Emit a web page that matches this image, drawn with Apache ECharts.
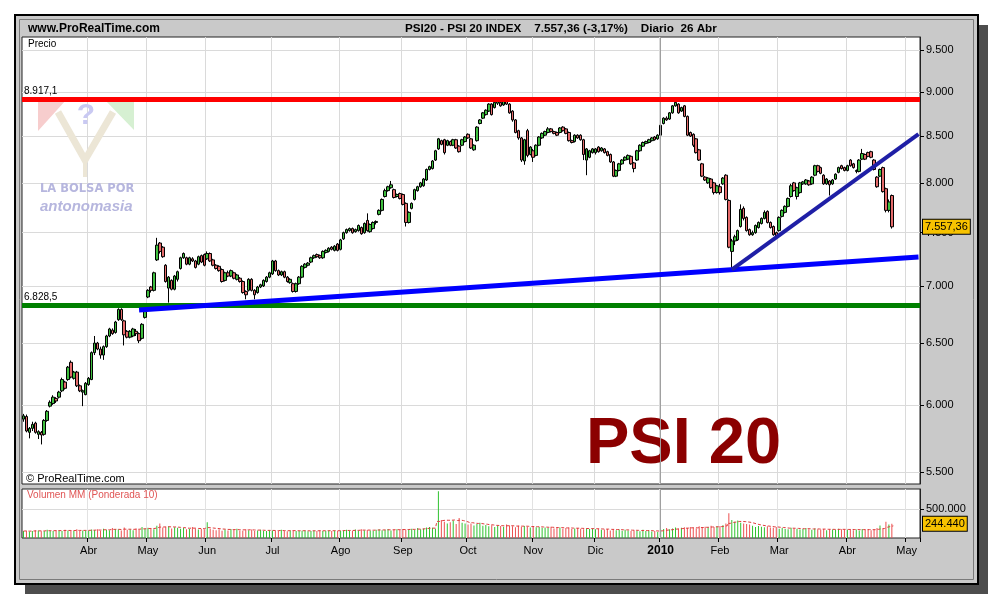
<!DOCTYPE html>
<html><head><meta charset="utf-8">
<script src="https://cdn.jsdelivr.net/npm/echarts@6/dist/echarts.min.js"></script>
<style>html,body{margin:0;padding:0;background:#fff}#c{width:990px;height:600px}</style>
</head><body><div id="c"></div>
<script>
// ---- daily candles [open, close, low, high] per month ----
const mar09=[[5890,5915,5870,5930],[5910,5800,5790,5925],[5790,5820,5745,5830],[5820,5850,5800,5870],[5860,5790,5780,5870],[5775,5795,5740,5805],[5790,5770,5700,5800],[5775,5880,5765,5890],[5880,5950,5870,5960],[5990,6020,5980,6035],[6010,6060,6000,6075],[6050,6030,6015,6060],[6060,6100,6050,6110],[6110,6200,6100,6215],[6180,6130,6120,6190],[6200,6300,6190,6310],[6340,6220,6210,6355],[6210,6260,6200,6270],[6260,6150,6140,6270],[6150,6110,6100,6160],[6100,6110,5990,6120],[6080,6170,6075,6180]];
const apr09=[[6160,6210,6150,6220],[6200,6420,6195,6430],[6420,6500,6400,6560],[6500,6450,6440,6510],[6450,6400,6370,6470],[6400,6470,6360,6480],[6470,6560,6460,6570],[6560,6620,6550,6630],[6610,6580,6570,6625],[6590,6680,6580,6690],[6700,6790,6690,6800],[6790,6700,6690,6800],[6690,6570,6480,6700],[6600,6550,6540,6610],[6550,6600,6540,6610],[6560,6620,6550,6630],[6600,6580,6560,6620],[6580,6520,6500,6590],[6540,6660,6530,6670],[6720,6780,6710,6790]];
const may09=[[6900,6960,6890,6970],[6990,6960,6940,7000],[6960,7120,6950,7130],[7240,7380,7230,7450],[7400,7320,7300,7410],[7360,7270,7260,7370],[7190,7040,7030,7200],[6980,7080,6850,7090],[7050,6970,6960,7060],[6970,7090,6960,7100],[7060,7130,7040,7140],[7160,7260,7150,7270],[7260,7300,7250,7310],[7260,7200,7190,7270],[7200,7260,7190,7270],[7250,7230,7220,7265],[7230,7170,7160,7240],[7200,7270,7190,7280],[7280,7220,7210,7290],[7290,7190,7180,7300]];
const jun09=[[7250,7300,7240,7320],[7300,7230,7220,7310],[7240,7190,7180,7250],[7190,7160,7150,7200],[7180,7140,7130,7190],[7150,7040,7030,7160],[7050,7120,7040,7130],[7120,7090,7080,7140],[7090,7140,7080,7150],[7120,7070,7060,7130],[7060,7100,7050,7110],[7070,7040,7030,7080],[7040,6940,6930,7050],[6950,6920,6880,6960],[6960,7060,6950,7070],[7060,6960,6950,7070],[6960,6920,6880,6970],[6940,6990,6930,7000],[6990,7010,6980,7020],[7000,7050,6990,7060],[7040,7080,7030,7090],[7080,7120,7070,7130]];
const jul09=[[7110,7230,7100,7240],[7230,7140,7130,7240],[7140,7100,7090,7150],[7100,7130,7090,7140],[7130,7080,7070,7140],[7080,7040,7030,7090],[7030,7060,7020,7070],[7020,6950,6940,7030],[6950,7020,6940,7030],[7020,7080,7010,7090],[7080,7180,7070,7190],[7170,7200,7160,7210],[7190,7210,7180,7220],[7220,7260,7210,7270],[7260,7280,7250,7290],[7290,7270,7260,7300],[7280,7260,7250,7290],[7260,7320,7250,7330],[7310,7330,7300,7340],[7320,7350,7310,7360],[7360,7340,7330,7370],[7330,7370,7320,7380],[7390,7330,7320,7400]];
const aug09=[[7340,7430,7330,7440],[7440,7500,7430,7510],[7500,7530,7490,7540],[7520,7540,7510,7550],[7540,7500,7490,7550],[7510,7530,7500,7540],[7520,7570,7510,7580],[7550,7490,7480,7560],[7500,7590,7490,7600],[7620,7520,7510,7690],[7510,7580,7500,7590],[7540,7600,7530,7610],[7600,7610,7580,7620],[7680,7720,7670,7730],[7720,7830,7710,7840],[7860,7920,7850,7940],[7920,7960,7910,7970],[7950,7980,7940,8020],[7930,7850,7840,7940],[7860,7880,7850,7890],[7890,7840,7830,7900]];
const sep09=[[7880,7780,7770,7890],[7790,7600,7560,7800],[7600,7700,7590,7710],[7740,7790,7730,7800],[7830,7930,7820,7940],[7920,7960,7910,7970],[7960,8000,7950,8010],[7970,8040,7960,8050],[8030,8140,8020,8150],[8140,8170,8130,8180],[8150,8230,8140,8240],[8240,8340,8230,8350],[8360,8470,8350,8480],[8450,8410,8400,8460],[8460,8320,8300,8470],[8400,8450,8390,8460],[8440,8400,8390,8450],[8400,8460,8390,8470],[8460,8370,8360,8470],[8390,8330,8320,8400],[8400,8460,8390,8470],[8440,8490,8430,8500]];
const oct09=[[8520,8480,8470,8530],[8470,8370,8360,8480],[8350,8400,8340,8410],[8450,8600,8440,8610],[8640,8680,8630,8690],[8700,8760,8690,8770],[8740,8790,8730,8800],[8780,8860,8770,8870],[8860,8740,8730,8870],[8820,8880,8810,8890],[8870,8890,8850,8920],[8880,8840,8830,8890],[8850,8890,8840,8900],[8890,8860,8850,8900],[8860,8760,8750,8870],[8780,8680,8660,8790],[8680,8540,8530,8690],[8560,8480,8460,8570],[8480,8240,8220,8490],[8230,8460,8190,8470],[8560,8290,8270,8580],[8300,8380,8290,8390]];
const nov09=[[8340,8270,8220,8360],[8290,8400,8280,8410],[8400,8490,8390,8500],[8480,8530,8470,8540],[8510,8550,8500,8560],[8540,8580,8530,8600],[8580,8550,8540,8590],[8550,8530,8520,8560],[8540,8510,8500,8550],[8540,8590,8530,8600],[8600,8560,8550,8610],[8580,8530,8520,8590],[8540,8450,8440,8550],[8450,8430,8420,8460],[8440,8510,8430,8520],[8510,8480,8470,8520],[8510,8460,8450,8520],[8460,8300,8240,8470],[8240,8360,8080,8370],[8270,8340,8260,8350],[8320,8360,8310,8370]];
const dec09=[[8320,8360,8300,8370],[8380,8330,8320,8390],[8340,8370,8330,8380],[8360,8320,8310,8370],[8330,8290,8280,8340],[8300,8220,8210,8310],[8220,8070,8060,8230],[8070,8130,8060,8140],[8130,8200,8120,8210],[8200,8240,8190,8250],[8240,8270,8230,8280],[8250,8290,8240,8300],[8280,8200,8190,8290],[8210,8150,8110,8220],[8240,8340,8230,8350],[8340,8400,8330,8410],[8390,8430,8380,8440],[8420,8440,8410,8450],[8430,8460,8420,8470],[8450,8480,8440,8490],[8490,8460,8450,8500],[8470,8510,8460,8520]];
const jan10=[[8510,8620,8500,8630],[8640,8700,8630,8710],[8700,8680,8670,8720],[8690,8760,8680,8770],[8760,8840,8750,8850],[8840,8880,8830,8930],[8860,8760,8750,8870],[8780,8820,8770,8830],[8840,8720,8710,8850],[8720,8510,8500,8730],[8540,8500,8490,8550],[8520,8400,8380,8530],[8470,8320,8310,8480],[8350,8240,8230,8360],[8200,8070,8060,8210],[8060,8030,8020,8070],[8000,8050,7990,8060],[8040,7950,7940,8050],[8000,7900,7880,8010],[7900,7970,7890,7980]];
const feb10=[[7960,7900,7880,7990],[7990,8050,7980,8060],[8080,7830,7820,8090],[7820,7360,7350,7830],[7320,7420,7150,7440],[7420,7460,7380,7480],[7430,7520,7420,7530],[7560,7730,7550,7780],[7740,7640,7620,7760],[7650,7520,7510,7660],[7530,7480,7470,7540],[7480,7500,7470,7520],[7500,7570,7490,7580],[7550,7600,7540,7610],[7590,7640,7580,7650],[7640,7700,7630,7720],[7710,7600,7590,7720],[7600,7550,7540,7610],[7560,7480,7470,7570],[7500,7460,7440,7510]];
const mar10=[[7520,7650,7510,7660],[7660,7720,7650,7730],[7700,7760,7690,7770],[7760,7840,7750,7850],[7860,7970,7850,7990],[8000,7920,7910,8010],[7860,7950,7830,7960],[7900,8000,7890,8010],[7990,8010,7980,8020],[7990,8030,7980,8040],[8020,7980,7970,8030],[7990,8060,7980,8070],[8080,8180,8070,8190],[8180,8120,8110,8190],[8160,8100,8090,8170],[8080,7990,7980,8090],[7990,8040,7980,8050],[8020,7980,7870,8030],[7990,8030,7980,8040],[8040,8090,8030,8100],[8110,8160,8100,8170],[8180,8150,8140,8190],[8160,8130,8120,8170]];
const apr10=[[8130,8180,8120,8190],[8240,8180,8170,8250],[8200,8160,8150,8210],[8120,8130,8100,8140],[8120,8240,8110,8250],[8250,8310,8240,8360],[8300,8250,8240,8310],[8320,8280,8270,8330],[8330,8270,8260,8340],[8240,8140,8130,8250],[8060,7960,7950,8070],[8070,8140,8060,8150],[8160,7910,7900,8170],[7940,7720,7700,7950],[7720,7805,7700,7830],[7870,7557.36,7540,7880]];

// ---- daily volume (thousands) per month ----
const volMar09=[118,125,110,120,132,128,115,122,140,125,118,135,128,120,142,130,125,118,150,122,128,135];
const volApr09=[130,145,138,150,125,160,142,135,170,155,148,128,180,140,150,135,165,145,190,158];
const volMay09=[175,168,150,210,250,180,195,200,165,185,175,160,170,150,155,190,165,145,160,150];
const volJun09=[270,160,140,135,150,125,145,130,155,140,160,130,125,150,135,145,120,130,140,125,118,135];
const volJul09=[130,125,118,140,122,115,128,135,120,118,125,130,115,122,128,120,135,118,125,130,122,128,120];
const volAug09=[125,135,140,130,120,145,128,150,135,138,130,125,142,150,135,140,155,130,145,150,140];
const volSep09=[155,140,150,160,145,170,150,165,180,190,175,160,800,310,280,250,270,300,240,345,260,250];
const volOct09=[230,250,215,240,260,210,225,200,220,190,210,205,195,230,215,200,185,210,195,205,190,180];
const volNov09=[200,185,190,175,180,170,195,165,175,180,160,170,175,155,165,170,160,150,165,155,160];
const volDec09=[150,160,140,145,155,130,150,135,145,125,140,130,120,135,125,115,140,120,130,110,118,105];
const volJan10=[140,155,170,150,165,180,160,175,185,170,190,175,165,200,180,195,185,210,190,200];
const volFeb10=[205,220,250,425,310,280,300,260,250,240,230,210,190,205,195,185,200,180,175,190];
const volMar10=[160,170,155,150,175,165,160,145,155,170,150,140,165,150,145,155,135,150,145,140,160,150,145];
const volApr10=[140,150,135,145,130,155,140,150,135,145,170,215,160,280,230,244.44];

// ---- calendar / ticks / levels ----
const firstDay='2009-03-02';
const futureDays=9;
const holidays=['2009-04-10','2009-04-13','2009-05-01','2009-12-25','2010-01-01','2010-04-02','2010-04-05'];
const monthNames=['Ene','Feb','Mar','Abr','May','Jun','Jul','Ago','Sep','Oct','Nov','Dic'];
const priceTicks=[5500,6000,6500,7000,7500,8000,8500,9000,9500];
const volumeTicks=[500000];
const resistance=8917.1, support=6828.5;
const longTrend={fromIdx:39,fromPrice:6785,toIdx:302,toPrice:7267};
const shortTrend={fromIdx:239,fromPrice:7150,toIdx:302,toPrice:8523};
const lastClose=7557.36, lastVolume=244440, yearMarkIdx=215;

const candles=[].concat(mar09,apr09,may09,jun09,jul09,aug09,sep09,oct09,nov09,dec09,jan10,feb10,mar10,apr10);
const volK=[].concat(volMar09,volApr09,volMay09,volJun09,volJul09,volAug09,volSep09,volOct09,volNov09,volDec09,volJan10,volFeb10,volMar10,volApr10);

function tradingDays(start,count){
  const out=[];const d=new Date(start+'T00:00:00Z');
  while(out.length<count){
    const dow=d.getUTCDay();const s=d.toISOString().slice(0,10);
    if(dow!==0&&dow!==6&&holidays.indexOf(s)<0)out.push(s);
    d.setUTCDate(d.getUTCDate()+1);
  }
  return out;
}
const dates=tradingDays(firstDay,candles.length+futureDays);
const isMonthStart=i=>i>0&&dates[i].slice(5,7)!==dates[i-1].slice(5,7);
const fmtThousands=v=>String(v).replace(/\B(?=(\d{3})+(?!\d))/g,'.');

const candleData=dates.map((d,i)=>candles[i]?candles[i]:'-');
const volData=dates.map((d,i)=>{
  if(!candles[i])return '-';
  const up=candles[i][1]>=candles[i][0];
  return {value:volK[i]*1000,itemStyle:{color:up?'#2fc22f':'#ec5050'}};
});
// weighted moving average (10) of volume, as named on the chart
const wma=dates.map((d,i)=>{
  if(i>=volK.length)return '-';
  let s=0,w=0;
  for(let k=0;k<10&&i-k>=0;k++){s+=(10-k)*volK[i-k];w+=(10-k);}
  return s/w*1000;
});

const FONT='"Liberation Sans", Arial, sans-serif';
const chart=echarts.init(document.getElementById('c'),null,{renderer:'canvas'});
chart.setOption({
  animation:false,
  backgroundColor:'#ffffff',
  textStyle:{fontFamily:FONT},
  graphic:[
    {type:'rect',z:-30,shape:{x:25,y:25,width:963,height:569},style:{fill:'#4d4d4d'}},
    {type:'rect',z:-25,shape:{x:15,y:15,width:963,height:569},style:{fill:'#c9c9c9',stroke:'#000',lineWidth:2}},
    {type:'rect',z:-24,shape:{x:19.5,y:19.5,width:954,height:560},style:{fill:'none',stroke:'#7a7a7a',lineWidth:1}},
    {type:'text',z:5,style:{x:28,y:29,text:'www.ProRealTime.com',font:'bold 12px '+FONT,fill:'#000',textVerticalAlign:'middle'}},
    {type:'text',z:5,style:{x:405,y:29,text:'PSI20 - PSI 20 INDEX    7.557,36 (-3,17%)    Diario  26 Abr',font:'bold 11.7px '+FONT,fill:'#000',textVerticalAlign:'middle'}},
    {type:'text',z:5,style:{x:28,y:44,text:'Precio',font:'10px '+FONT,fill:'#000',textVerticalAlign:'middle'}},
    {type:'text',z:5,style:{x:26,y:479,text:'© ProRealTime.com',font:'11px '+FONT,fill:'#000',textVerticalAlign:'middle'}},
    {type:'text',z:5,style:{x:27,y:495,text:'Volumen MM (Ponderada 10)',font:'10px '+FONT,fill:'#e05555',textVerticalAlign:'middle'}},
    // watermark logo
    {type:'polygon',z:1,shape:{points:[[38,100],[66,100],[38,131]]},style:{fill:'#f7cdcd'}},
    {type:'polygon',z:1,shape:{points:[[105,100],[134,100],[134,130]]},style:{fill:'#d6f0d2'}},
    {type:'polyline',z:1,shape:{points:[[58,112],[85,160],[113,112]]},style:{stroke:'#ece6d6',lineWidth:7,fill:'none'}},
    {type:'line',z:1,shape:{x1:85,y1:158,x2:85,y2:177},style:{stroke:'#ece6d6',lineWidth:4}},
    {type:'text',z:1,style:{x:86,y:116,text:'?',font:'bold 30px '+FONT,fill:'#c9c9f2',textAlign:'center',textVerticalAlign:'middle'}},
    {type:'text',z:1,style:{x:40,y:189,text:'LA BOLSA POR',font:'bold 11.5px "DejaVu Sans", sans-serif',fill:'#b6b6de',textVerticalAlign:'middle'}},
    {type:'text',z:1,style:{x:40,y:207,text:'antonomasia',font:'italic bold 15px '+FONT,fill:'#b6b6de',textVerticalAlign:'middle'}},
    {type:'text',z:1,style:{x:586,y:445,text:'PSI 20',font:'bold 65px '+FONT,fill:'#8b0000',textVerticalAlign:'middle'}}
  ],
  grid:[
    {left:22,top:37,width:898,height:447,show:true,backgroundColor:'#fff',borderColor:'#222',borderWidth:1},
    {left:22,top:489,width:898,height:49,show:true,backgroundColor:'#fff',borderColor:'#222',borderWidth:1}
  ],
  xAxis:[
    {type:'category',gridIndex:0,data:dates,boundaryGap:true,axisLine:{show:false},axisTick:{show:false},axisLabel:{show:false},
     splitLine:{show:true,interval:i=>isMonthStart(i),lineStyle:{color:'#dadada',width:1}}},
    {type:'category',gridIndex:1,data:dates,boundaryGap:true,axisLine:{show:false},
     axisTick:{show:true,interval:i=>isMonthStart(i),length:4,lineStyle:{color:'#000'}},
     axisLabel:{show:true,interval:i=>isMonthStart(i),margin:7,fontSize:11,color:'#000',fontFamily:FONT,
       formatter:(v)=>{const m=+v.slice(5,7);return m===1?'{y|'+v.slice(0,4)+'}':monthNames[m-1];},
       rich:{y:{fontWeight:'bold',fontSize:12,color:'#000',fontFamily:FONT}}},
     splitLine:{show:true,interval:i=>isMonthStart(i),lineStyle:{color:'#e2e2e2',width:1}}}
  ],
  yAxis:[
    {type:'log',logBase:10,gridIndex:0,position:'right',min:5415,max:9665,
     axisLine:{show:true,lineStyle:{color:'#222'}},
     axisTick:{show:true,inside:false,length:4,customValues:priceTicks,lineStyle:{color:'#000'}},
     axisLabel:{show:true,customValues:priceTicks,margin:6,fontSize:11,color:'#000',fontFamily:FONT,formatter:v=>fmtThousands(Math.round(v))},
     splitLine:{show:true,lineStyle:{color:'#dadada',width:1}}},
    {type:'value',gridIndex:1,position:'right',min:0,max:840000,
     axisLine:{show:true,lineStyle:{color:'#222'}},
     axisTick:{show:true,length:4,customValues:volumeTicks,lineStyle:{color:'#000'}},
     axisLabel:{show:true,customValues:volumeTicks,margin:6,fontSize:11,color:'#000',fontFamily:FONT,formatter:v=>fmtThousands(Math.round(v))},
     splitLine:{show:true,lineStyle:{color:'#dadada',width:1}}}
  ],
  series:[
    {type:'candlestick',xAxisIndex:0,yAxisIndex:0,data:candleData,barWidth:3,
     itemStyle:{color:'#3fbf3f',color0:'#e46a6a',borderColor:'#000',borderColor0:'#000',borderWidth:1},
     markLine:{silent:true,symbol:['none','none'],animation:false,
      data:[
        {xAxis:dates[yearMarkIdx],lineStyle:{color:'#a0a0a0',width:1,type:'solid'},label:{show:false}},
        {yAxis:resistance,lineStyle:{color:'#ff0000',width:5,type:'solid'},
         label:{show:true,position:'insideStartTop',distance:[2,3],formatter:'8.917,1',color:'#000',fontSize:10,fontFamily:FONT}},
        {yAxis:support,lineStyle:{color:'#008000',width:5,type:'solid'},
         label:{show:true,position:'insideStartTop',distance:[2,3],formatter:'6.828,5',color:'#000',fontSize:10,fontFamily:FONT}},
        [{coord:[dates[longTrend.fromIdx],longTrend.fromPrice]},{coord:[dates[longTrend.toIdx],longTrend.toPrice],lineStyle:{color:'#0000ff',width:5,type:'solid'},label:{show:false}}],
        [{coord:[dates[shortTrend.fromIdx],shortTrend.fromPrice]},{coord:[dates[shortTrend.toIdx],shortTrend.toPrice],lineStyle:{color:'#1f1fa6',width:4,type:'solid'},label:{show:false}}],
        {yAxis:lastClose,lineStyle:{color:'rgba(0,0,0,0)',width:0},
         label:{show:true,position:'end',distance:3,formatter:'7.557,36',color:'#000',fontSize:11,fontFamily:FONT,
           backgroundColor:'#f7c200',borderColor:'#000',borderWidth:1,padding:[2,2,1,2]}}
      ]}},
    {type:'bar',xAxisIndex:1,yAxisIndex:1,data:volData,barWidth:1,
     markLine:{silent:true,symbol:['none','none'],animation:false,
      data:[
        {xAxis:dates[yearMarkIdx],lineStyle:{color:'#a0a0a0',width:1,type:'solid'},label:{show:false}},
        {yAxis:lastVolume,lineStyle:{color:'rgba(0,0,0,0)',width:0},
         label:{show:true,position:'end',distance:3,formatter:'244.440',color:'#000',fontSize:11,fontFamily:FONT,
           backgroundColor:'#f7c200',borderColor:'#000',borderWidth:1,padding:[2,2,1,2]}}
      ]}},
    {type:'line',xAxisIndex:1,yAxisIndex:1,data:wma,symbol:'none',step:'middle',
     lineStyle:{color:'#e03c3c',width:1,type:[3,2]}}
  ]
});
</script></body></html>
